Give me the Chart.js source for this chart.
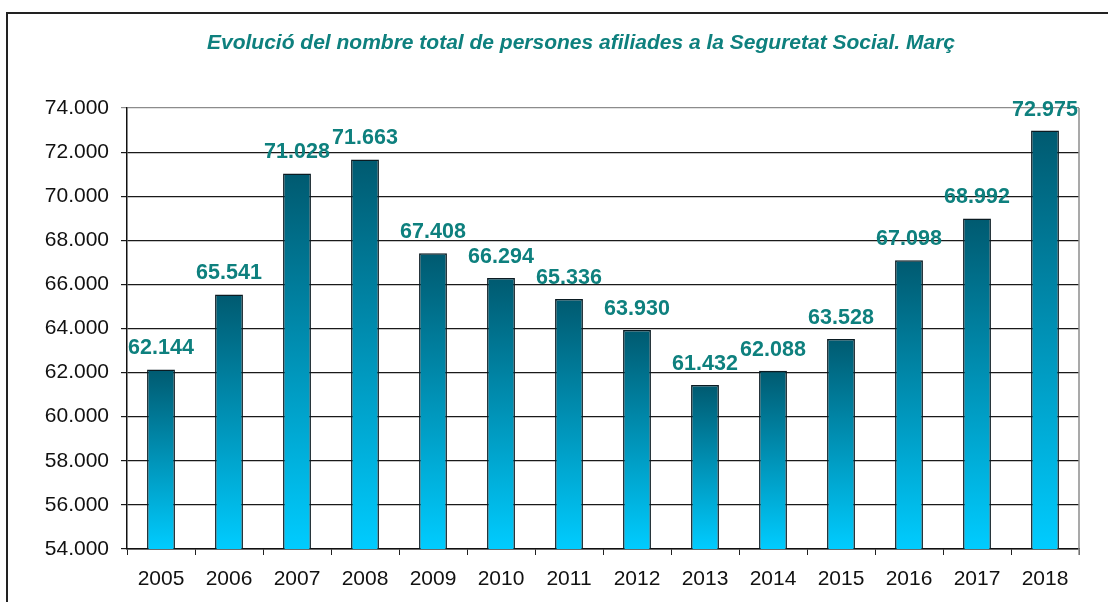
<!DOCTYPE html>
<html>
<head>
<meta charset="utf-8">
<script src="https://cdn.jsdelivr.net/npm/chart.js@4/dist/chart.umd.min.js"></script>
<style>
  html, body { margin: 0; padding: 0; background: #fff; }
  #wrap { width: 1108px; height: 602px; }
</style>
</head>
<body>
<div id="wrap"><canvas id="chart" width="1108" height="602"></canvas></div>
<script>
const years = ["2005", "2006", "2007", "2008", "2009", "2010", "2011", "2012", "2013", "2014", "2015", "2016", "2017", "2018"];
const afiliats = [62144, 65541, 71028, 71663, 67408, 66294, 65336, 63930, 61432, 62088, 63528, 67098, 68992, 72975];
const titleText = "Evolució del nombre total de persones afiliades a la Seguretat Social. Març";

const FONT = "'Liberation Sans', Arial, sans-serif";
const TEAL = "#0e807e";

// 62144 -> "62.144"
function fmt(v) {
  return String(Math.round(v)).replace(/\B(?=(\d{3})+(?!\d))/g, ".");
}

// marc exterior, títol i vora dreta
const framePlugin = {
  id: "frame",
  beforeDraw(chart) {
    const ctx = chart.ctx;
    ctx.save();
    ctx.fillStyle = "#fff";
    ctx.fillRect(0, 0, chart.width, chart.height);
    ctx.strokeStyle = "#222";
    ctx.lineWidth = 2;
    ctx.strokeRect(7, 13, 1300, 800);
    ctx.font = "italic bold 21px " + FONT;
    ctx.fillStyle = TEAL;
    ctx.textAlign = "center";
    ctx.textBaseline = "middle";
    ctx.fillText(titleText, 581, 43);
    ctx.restore();
  },
  afterDraw(chart) {
    const a = chart.chartArea;
    const ctx = chart.ctx;
    ctx.save();
    ctx.strokeStyle = "#8c8c8c";
    ctx.lineWidth = 1.5;
    ctx.beginPath();
    ctx.moveTo(a.right, a.top);
    ctx.lineTo(a.right, a.bottom + 6);
    ctx.stroke();
    ctx.restore();
  }
};

// etiquetes de valor sobre les barres
const valueLabels = {
  id: "valueLabels",
  afterDatasetsDraw(chart) {
    const ctx = chart.ctx;
    const meta = chart.getDatasetMeta(0);
    ctx.save();
    ctx.font = "bold 21.5px " + FONT;
    ctx.fillStyle = TEAL;
    ctx.textAlign = "center";
    ctx.textBaseline = "middle";
    meta.data.forEach((bar, i) => {
      ctx.fillText(fmt(afiliats[i]), bar.x, bar.y - 21);
    });
    ctx.restore();
  }
};

function barGradient(c) {
  const chart = c.chart;
  const area = chart.chartArea;
  if (!area || c.raw === undefined) return "#0090b0";
  const top = chart.scales.y.getPixelForValue(c.raw);
  const g = chart.ctx.createLinearGradient(0, top, 0, area.bottom);
  g.addColorStop(0, "#005a70");
  g.addColorStop(1, "#00ccff");
  return g;
}

new Chart(document.getElementById("chart"), {
  type: "bar",
  data: {
    labels: years,
    datasets: [{
      data: afiliats,
      backgroundColor: barGradient,
      borderColor: "#0b1b22",
      borderWidth: 1.5,
      categoryPercentage: 1,
      barPercentage: 0.41
    }]
  },
  options: {
    responsive: false,
    animation: false,
    layout: { padding: { left: 0, right: 29, top: 108, bottom: 0 } },
    plugins: {
      legend: { display: false },
      tooltip: { enabled: false },
      title: { display: false }
    },
    scales: {
      x: {
        grid: { offset: true, drawOnChartArea: false, drawTicks: true, tickLength: 6, color: "#222" },
        border: { color: "#111", width: 1.5 },
        ticks: { color: "#111", font: { family: FONT, size: 21 }, padding: 12, maxRotation: 0 },
        afterFit(s) { s.height = 53; }
      },
      y: {
        min: 54000,
        max: 74000,
        grid: {
          color: (c) => (c.tick && c.tick.value === 74000 ? "#8c8c8c" : "#1a1a1a"),
          lineWidth: 1.2,
          tickLength: 6
        },
        border: { color: "#111", width: 1.5 },
        ticks: {
          stepSize: 2000,
          color: "#111",
          font: { family: FONT, size: 21 },
          padding: 12,
          callback: (v) => fmt(v)
        },
        afterFit(s) { s.width = 127; }
      }
    }
  },
  plugins: [framePlugin, valueLabels]
});
</script>
</body>
</html>
